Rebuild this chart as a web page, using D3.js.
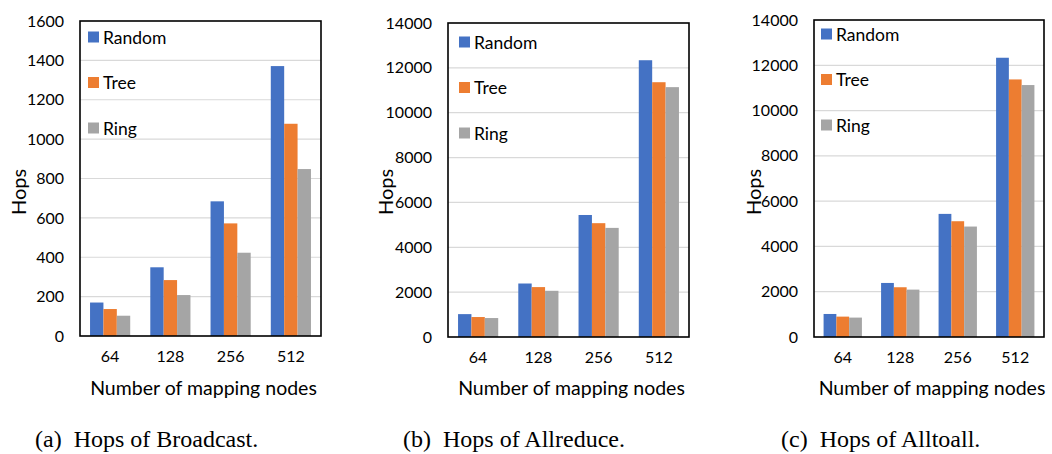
<!DOCTYPE html>
<html>
<head>
<meta charset="utf-8">
<script src="https://cdn.jsdelivr.net/npm/d3@7"></script>
<style>
	body { margin: 0; background: #fff; }
	svg { display: block; }
	.tick text { font-family: Lato, 'Open Sans', sans-serif; }
</style>
</head>
<body>
<div id="chart"></div>
<script>
// NOTE data
var nodes = ['64', '128', '256', '512'];
var series = ['Random', 'Tree', 'Ring'];
var colors = ['#4472c4', '#ed7d31', '#a5a5a5'];

var broadcast = [
	[170, 349, 684, 1371], // Random
	[137, 284, 572, 1078], // Tree
	[103, 208, 423, 848] // Ring
];
var allreduce = [
	[1020, 2385, 5440, 12340],
	[890, 2225, 5075, 11360],
	[845, 2060, 4865, 11140]
];
var alltoall = [
	[1017, 2387, 5437, 12333],
	[900, 2197, 5113, 11375],
	[857, 2093, 4878, 11127]
];

var yTicks1 = d3.range(0, 1601, 200);
var yTicks2 = d3.range(0, 14001, 2000);

var captions = ['(a)  Hops of Broadcast.', '(b)  Hops of Allreduce.', '(c)  Hops of Alltoall.'];

var W = 1052, H = 454;

var svg = d3
	.select('#chart')
	.append('svg')
	.attr('width', W)
	.attr('height', H);

// panel boxes (pixel layout)
var panels = [
	{ data: broadcast, ticks: yTicks1, max: 1600, left: 80, right: 321, top: 21, bottom: 336, legX: 88, legY: 37, hopsX: 18, capX: 35 },
	{ data: allreduce, ticks: yTicks2, max: 14000, left: 448, right: 689, top: 23, bottom: 337, legX: 459, legY: 42, hopsX: 385, capX: 403 },
	{ data: alltoall, ticks: yTicks2, max: 14000, left: 814, right: 1044, top: 20, bottom: 337, legX: 821, legY: 34, hopsX: 753, capX: 781 }
];

panels.forEach(function (p, pi) {
	var g = svg.append('g');

	var y = d3.scaleLinear().domain([0, p.max]).range([p.bottom, p.top]);

	var x0 = d3.scaleBand().domain(nodes).range([p.left, p.right]).padding(0);

	var x1 = d3
		.scaleBand()
		.domain(series)
		.range([0, x0.bandwidth()])
		.paddingInner(0)
		.paddingOuter(0.75);

	// gridlines
	g.selectAll('line.grid')
		.data(p.ticks.slice(1, -1))
		.enter()
		.append('line')
		.attr('class', 'grid')
		.attr('x1', p.left)
		.attr('x2', p.right)
		.attr('y1', function (d) { return y(d); })
		.attr('y2', function (d) { return y(d); })
		.attr('stroke', '#d9d9d9')
		.attr('stroke-width', 1.2);

	// bars
	series.forEach(function (s, si) {
		g.selectAll('rect.s' + si)
			.data(p.data[si])
			.enter()
			.append('rect')
			.attr('class', 's' + si)
			.attr('x', function (d, i) { return x0(nodes[i]) + x1(s); })
			.attr('y', function (d) { return y(d); })
			.attr('width', x1.bandwidth())
			.attr('height', function (d) { return y(0) - y(d); })
			.attr('fill', colors[si]);
	});

	// box
	g.append('rect')
		.attr('x', p.left)
		.attr('y', p.top)
		.attr('width', p.right - p.left)
		.attr('height', p.bottom - p.top)
		.attr('fill', 'none')
		.attr('stroke', '#000')
		.attr('stroke-width', 1.6);

	// y axis
	var yAxis = d3.axisLeft(y).tickValues(p.ticks).tickFormat(d3.format('d')).tickSize(0).tickPadding(16);
	var ya = g.append('g').attr('transform', 'translate(' + p.left + ',0)').call(yAxis);
	ya.select('.domain').remove();
	ya.selectAll('text').attr('font-size', 16).attr('fill', '#000');

	// x axis
	var xAxis = d3.axisBottom(x0).tickSize(0).tickPadding(15);
	var xa = g.append('g').attr('transform', 'translate(0,' + p.bottom + ')').call(xAxis);
	xa.select('.domain').remove();
	xa.selectAll('text').attr('font-size', 16).attr('fill', '#000');

	// axis titles
	g.append('text')
		.attr('transform', 'translate(' + p.hopsX + ',192) rotate(-90)')
		.attr('text-anchor', 'middle')
		.attr('dominant-baseline', 'central')
		.attr('font-family', 'Lato, sans-serif')
		.attr('font-size', 20)
		.text('Hops');

	g.append('text')
		.attr('x', (p.left + p.right) / 2 + 3)
		.attr('y', 387)
		.attr('text-anchor', 'middle')
		.attr('dominant-baseline', 'central')
		.attr('font-family', 'Lato, sans-serif')
		.attr('font-size', 19.5)
		.text('Number of mapping nodes');

	// legend
	var leg = g.selectAll('g.leg')
		.data(series)
		.enter()
		.append('g')
		.attr('class', 'leg')
		.attr('transform', function (d, i) {
			return 'translate(' + p.legX + ',' + (p.legY + i * 45.5) + ')';
		});
	leg.append('rect')
		.attr('x', 0)
		.attr('y', -5.5)
		.attr('width', 11)
		.attr('height', 11)
		.attr('fill', function (d, i) { return colors[i]; });
	leg.append('text')
		.attr('x', 15)
		.attr('y', 0)
		.attr('dominant-baseline', 'central')
		.attr('font-family', 'Lato, sans-serif')
		.attr('font-size', 17.5)
		.text(function (d) { return d; });

	// caption
	svg.append('text')
		.attr('x', p.capX)
		.attr('y', 439)
		.attr('dominant-baseline', 'central')
		.attr('font-family', "'Liberation Serif', serif")
		.attr('font-size', 24)
		.style('white-space', 'pre')
		.text(captions[pi]);
});
</script>
</body>
</html>
